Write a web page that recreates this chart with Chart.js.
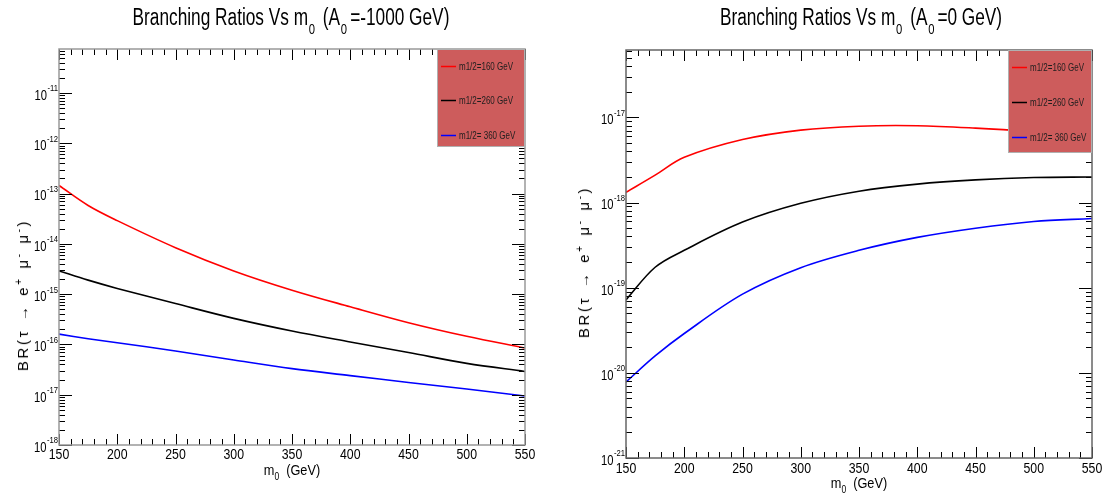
<!DOCTYPE html>
<html><head><meta charset="utf-8">
<script src="https://cdn.jsdelivr.net/npm/chart.js@4.4.0/dist/chart.umd.min.js"></script>
<style>
html,body{margin:0;padding:0;background:#fff;width:1112px;height:500px;overflow:hidden;position:relative;}
canvas{position:absolute;top:0;}
#c1{left:0;} #c2{left:556px;}
.t{position:absolute;font-family:"Liberation Sans",Arial,sans-serif;color:#000;white-space:nowrap;line-height:1;}
.title{font-size:23px;top:6px;transform:translateX(-50%) scaleX(0.75);}
.title sub{font-size:15px;vertical-align:-9px;margin:0 4px 0 1px;}
.xt{font-size:15px;transform:translateX(-50%) scaleX(0.85);}
.xt sub{font-size:10px;vertical-align:-5px;margin-right:4px;}
.yt{font-size:15px;letter-spacing:2.6px;word-spacing:1px;transform:translate(-50%,-50%) rotate(-90deg);}
.yt sup{font-size:10px;vertical-align:6px;}
</style></head>
<body>
<canvas id="c1" width="556" height="500"></canvas>
<canvas id="c2" width="556" height="500"></canvas>
<div class="t title" style="left:291px;">Branching Ratios Vs m<sub>0</sub> (A<sub>0</sub>=-1000 GeV)</div>
<div class="t title" style="left:861px;">Branching Ratios Vs m<sub>0</sub> (A<sub>0</sub>=0 GeV)</div>
<div class="t xt" style="left:292px;top:462px;">m<sub>0</sub> (GeV)</div>
<div class="t xt" style="left:859px;top:475px;">m<sub>0</sub> (GeV)</div>
<div class="t yt" style="left:22px;top:295px;">BR(τ → e<sup>+</sup> μ<sup>-</sup> μ<sup>-</sup>)</div>
<div class="t yt" style="left:583px;top:262px;">BR(τ → e<sup>+</sup> μ<sup>-</sup> μ<sup>-</sup>)</div>
<script>
// ---- data ----
const m0 = [150, 175, 200, 250, 300, 350, 400, 450, 500, 550];
const seriesLabels = ['m1/2=160 GeV', 'm1/2=260 GeV', 'm1/2= 360 GeV'];
const leftRed   = [1.45e-13, 5.8e-14, 2.9e-14, 8.4e-15, 2.9e-15, 1.2e-15, 5.6e-16, 2.7e-16, 1.45e-16, 8.5e-17];
const leftBlack = [2.9e-15, 1.9e-15, 1.3e-15, 6.5e-16, 3.3e-16, 1.85e-16, 1.12e-16, 6.9e-17, 4.2e-17, 2.9e-17];
const leftBlue  = [1.6e-16, 1.3e-16, 1.08e-16, 7.4e-17, 4.9e-17, 3.3e-17, 2.4e-17, 1.75e-17, 1.3e-17, 9.4e-18];
const rightRed   = [1.32e-18, 2.1e-18, 3.4e-18, 5.5e-18, 7.1e-18, 7.9e-18, 8.0e-18, 7.5e-18, 6.8e-18, 6.0e-18];
const rightBlack = [7.2e-20, 1.74e-19, 2.75e-19, 5.9e-19, 9.8e-19, 1.36e-18, 1.65e-18, 1.85e-18, 1.97e-18, 2.0e-18];
const rightBlue  = [7.8e-21, 1.58e-20, 2.9e-20, 8.4e-20, 1.72e-19, 2.75e-19, 3.9e-19, 5.0e-19, 6.0e-19, 6.5e-19];
const xTicks = [150, 200, 250, 300, 350, 400, 450, 500, 550];
const leftDecades = [1e-18, 1e-17, 1e-16, 1e-15, 1e-14, 1e-13, 1e-12, 1e-11];
const rightDecades = [1e-21, 1e-20, 1e-19, 1e-18, 1e-17];

const FONT = '"Liberation Sans",Arial,sans-serif';
Chart.defaults.font.family = FONT;
Chart.defaults.color = '#000';

const SUP = {'-':'⁻','0':'⁰','1':'¹','2':'²','3':'³','4':'⁴','5':'⁵','6':'⁶','7':'⁷','8':'⁸','9':'⁹'};
function decLabel(v){
  const e = Math.round(Math.log10(v));
  return '10' + String(e).split('').map(c => SUP[c]).join('');
}

function condensedText(ctx, text, x, y, sx, align) {
  ctx.save();
  ctx.translate(x, y);
  ctx.scale(sx, 1);
  ctx.textAlign = align;
  ctx.fillText(text, 0, 0);
  ctx.restore();
}

const rootFrame = {
  id: 'rootFrame',
  afterDatasetsDraw(chart, args, o) {
    const {ctx, chartArea: a, scales: {x, y}} = chart;
    ctx.save();
    // inward ticks
    ctx.strokeStyle = '#000'; ctx.lineWidth = 1;
    ctx.beginPath();
    for (let v = x.min; v <= x.max + 1e-6; v += 10) {
      const px = Math.round(x.getPixelForValue(v)) + 0.5;
      const L = (Math.abs((v - 150) % 50) < 1e-6) ? 11 : 6;
      ctx.moveTo(px, a.bottom); ctx.lineTo(px, a.bottom - L);
      ctx.moveTo(px, a.top); ctx.lineTo(px, a.top + L);
    }
    const lo = Math.floor(Math.log10(y.min)) - 1, hi = Math.ceil(Math.log10(y.max));
    for (let e = lo; e <= hi; e++) for (let m = 1; m <= 9; m++) {
      const v = m * Math.pow(10, e);
      if (v < y.min * 0.999 || v > y.max * 1.001) continue;
      const py = Math.round(y.getPixelForValue(v)) + 0.5;
      const L = m === 1 ? 13 : 6;
      ctx.moveTo(a.left, py); ctx.lineTo(a.left + L, py);
      ctx.moveTo(a.right, py); ctx.lineTo(a.right - L, py);
    }
    ctx.stroke();
    // frame
    ctx.strokeStyle = o.frameColor; ctx.lineWidth = 1.5;
    ctx.strokeRect(a.left, a.top, a.right - a.left, a.bottom - a.top);
    // legend box
    const bx = a.right - o.boxW, by = a.top, bw = o.boxW, bh = o.boxH;
    ctx.fillStyle = '#cd5c5c';
    ctx.fillRect(bx, by, bw, bh);
    ctx.strokeStyle = '#b0b0b0'; ctx.lineWidth = 1;
    ctx.strokeRect(bx + 0.5, by + 0.5, bw - 1, bh - 1);
    ctx.font = '10px ' + FONT;
    ctx.textBaseline = 'middle';
    chart.data.datasets.forEach((ds, i) => {
      const ly = by + o.rows[i];
      ctx.strokeStyle = ds.borderColor; ctx.lineWidth = 1.5;
      ctx.beginPath(); ctx.moveTo(bx + 4, ly + 0.5); ctx.lineTo(bx + 19, ly + 0.5); ctx.stroke();
      ctx.fillStyle = '#1e1e1e';
      condensedText(ctx, ds.label, bx + 22, ly + 1, 0.8, 'left');
    });
    // tick labels (from the library's scale ticks)
    ctx.fillStyle = '#000';
    ctx.font = '15px ' + FONT; ctx.textBaseline = 'top';
    x.ticks.forEach(t => {
      condensedText(ctx, String(t.value), x.getPixelForValue(t.value), a.bottom + o.xpad, 0.82, 'center');
    });
    y.ticks.forEach(t => {
      const py = y.getPixelForValue(t.value);
      const e = String(Math.round(Math.log10(t.value)));
      ctx.font = '9px ' + FONT; ctx.textBaseline = 'middle';
      const ew = ctx.measureText(e).width * 0.85;
      const right = a.left - 1;
      condensedText(ctx, e, right, py - 4, 0.85, 'right');
      ctx.font = '14px ' + FONT;
      condensedText(ctx, '10', right - ew - 0.5, py + 3, 0.8, 'right');
    });
    ctx.restore();
  }
};

function makeChart(id, reds, blacks, blues, yMin, yMax, decades, layout, frame) {
  const mk = (vals) => m0.map((x, i) => ({x, y: vals[i]}));
  const colors = ['#ff0000', '#000000', '#0000ff'];
  return new Chart(document.getElementById(id), {
    type: 'line',
    data: {
      datasets: [reds, blacks, blues].map((vals, i) => ({
        label: seriesLabels[i], data: mk(vals), borderColor: colors[i],
        borderWidth: 1.6, pointRadius: 0, tension: 0.35, fill: false
      }))
    },
    options: {
      responsive: false, animation: false, devicePixelRatio: 1,
      layout: {padding: {left: 0, right: layout.right, top: layout.top, bottom: 0}},
      plugins: {legend: {display: false}, title: {display: false}, tooltip: {enabled: false},
        rootFrame: frame},
      scales: {
        x: {
          type: 'linear', min: 150, max: 550,
          afterBuildTicks: s => { s.ticks = xTicks.map(v => ({value: v})); },
          afterFit: s => { s.height = layout.xh; },
          grid: {display: false, drawTicks: false},
          border: {display: false},
          ticks: {display: false, autoSkip: false}
        },
        y: {
          type: 'logarithmic', min: yMin, max: yMax,
          afterBuildTicks: s => { s.ticks = decades.map(v => ({value: v})); },
          afterFit: s => { s.width = layout.yw; },
          grid: {display: false, drawTicks: false},
          border: {display: false},
          ticks: {display: false, autoSkip: false, callback: v => decLabel(v)}
        }
      }
    },
    plugins: [rootFrame]
  });
}

makeChart('c1', leftRed, leftBlack, leftBlue, 1e-18, 7.5e-11, leftDecades,
  {right: 31, top: 49, xh: 55, yw: 59},
  {frameColor: '#999', boxW: 88, boxH: 98, rows: [17, 51, 86], xpad: 2});
makeChart('c2', rightRed, rightBlack, rightBlue, 1e-21, 6.2e-17, rightDecades,
  {right: 20, top: 50, xh: 42, yw: 70},
  {frameColor: '#666', boxW: 84, boxH: 103, rows: [17, 52, 87], xpad: 3});
</script>
</body></html>
